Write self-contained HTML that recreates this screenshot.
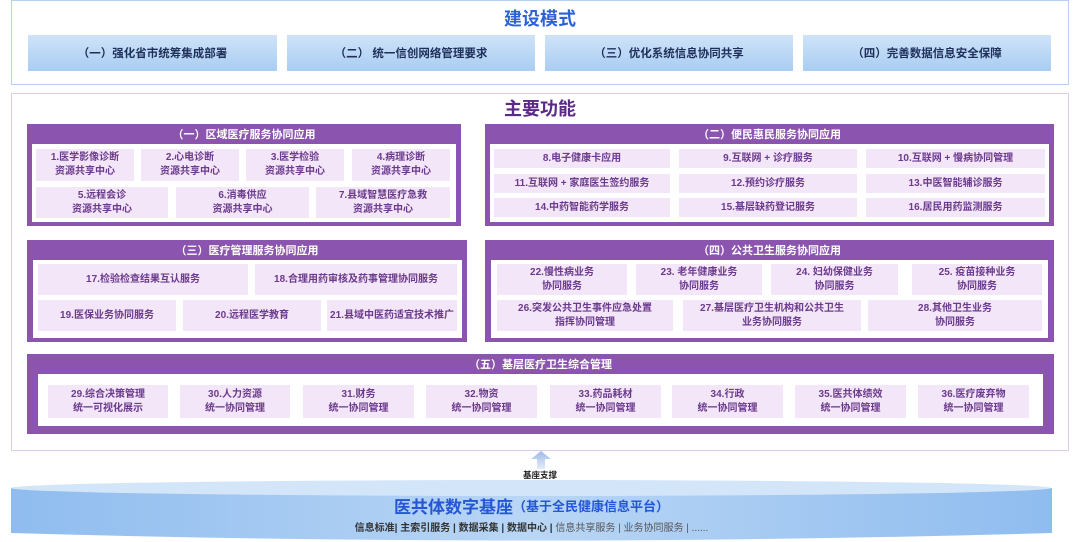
<!DOCTYPE html>
<html><head><meta charset="utf-8"><style>
body{margin:0;width:1080px;height:542px;background:#fff;position:relative;overflow:hidden;font-family:"Liberation Sans","Noto Sans CJK SC",sans-serif;}
.a{position:absolute;box-sizing:border-box;}
.t{display:flex;align-items:center;justify-content:center;text-align:center;}
.btn{background:linear-gradient(180deg,#cfe3f8,#a9cdf3);color:#1e2f5a;font-size:11.5px;font-weight:bold;}
.sec{background:#8b54ae;}
.hd{color:#fff;font-size:11px;font-weight:bold;height:20px;}
.in{background:#fff;}
.it{background:#f3e6f9;color:#6b3a8c;font-size:10px;line-height:14px;font-weight:bold;}
</style></head><body>
<div class="a" style="left:11px;top:0;width:1058px;height:85px;border:1px solid #b9d0f5;"></div>
<div class="a t" style="left:11px;top:6px;width:1058px;height:24px;color:#2c62d6;font-size:18px;font-weight:bold;">建设模式</div>
<div class="a t btn" style="left:28px;top:35px;width:249px;height:36px;">（一）强化省市统筹集成部署</div>
<div class="a t btn" style="left:287px;top:35px;width:248px;height:36px;">（二） 统一信创网络管理要求</div>
<div class="a t btn" style="left:545px;top:35px;width:248px;height:36px;">（三）优化系统信息协同共享</div>
<div class="a t btn" style="left:803px;top:35px;width:248px;height:36px;">（四）完善数据信息安全保障</div>

<div class="a" style="left:11px;top:93px;width:1058px;height:358px;border:1px solid #dccbea;"></div>
<div class="a t" style="left:11px;top:96px;width:1058px;height:24px;color:#5b2a86;font-size:18px;font-weight:bold;">主要功能</div>

<!-- sec1 -->
<div class="a sec" style="left:27px;top:124px;width:434px;height:102px;"></div>
<div class="a t hd" style="left:27px;top:124px;width:434px;">（一）区域医疗服务协同应用</div>
<div class="a in" style="left:32px;top:144px;width:424px;height:78px;"></div>
<div class="a t it" style="left:36px;top:149px;width:98px;height:32px;">1.医学影像诊断<br>资源共享中心</div>
<div class="a t it" style="left:141px;top:149px;width:98px;height:32px;">2.心电诊断<br>资源共享中心</div>
<div class="a t it" style="left:246px;top:149px;width:98px;height:32px;">3.医学检验<br>资源共享中心</div>
<div class="a t it" style="left:352px;top:149px;width:98px;height:32px;">4.病理诊断<br>资源共享中心</div>
<div class="a t it" style="left:36px;top:187px;width:132px;height:31px;">5.远程会诊<br>资源共享中心</div>
<div class="a t it" style="left:176px;top:187px;width:133px;height:31px;">6.消毒供应<br>资源共享中心</div>
<div class="a t it" style="left:316px;top:187px;width:134px;height:31px;">7.县域智慧医疗急救<br>资源共享中心</div>

<!-- sec2 -->
<div class="a sec" style="left:485px;top:124px;width:569px;height:102px;"></div>
<div class="a t hd" style="left:485px;top:124px;width:569px;">（二）便民惠民服务协同应用</div>
<div class="a in" style="left:490px;top:144px;width:559px;height:78px;"></div>
<div class="a t it" style="left:494px;top:149px;width:176px;height:19px;">8.电子健康卡应用</div>
<div class="a t it" style="left:679px;top:149px;width:178px;height:19px;">9.互联网 + 诊疗服务</div>
<div class="a t it" style="left:866px;top:149px;width:179px;height:19px;">10.互联网 + 慢病协同管理</div>
<div class="a t it" style="left:494px;top:174px;width:176px;height:19px;">11.互联网 + 家庭医生签约服务</div>
<div class="a t it" style="left:679px;top:174px;width:178px;height:19px;">12.预约诊疗服务</div>
<div class="a t it" style="left:866px;top:174px;width:179px;height:19px;">13.中医智能辅诊服务</div>
<div class="a t it" style="left:494px;top:198px;width:176px;height:19px;">14.中药智能药学服务</div>
<div class="a t it" style="left:679px;top:198px;width:178px;height:19px;">15.基层缺药登记服务</div>
<div class="a t it" style="left:866px;top:198px;width:179px;height:19px;">16.居民用药监测服务</div>

<!-- sec3 -->
<div class="a sec" style="left:27px;top:240px;width:440px;height:102px;"></div>
<div class="a t hd" style="left:27px;top:240px;width:440px;">（三）医疗管理服务协同应用</div>
<div class="a in" style="left:33px;top:260px;width:429px;height:78px;"></div>
<div class="a t it" style="left:38px;top:264px;width:210px;height:31px;">17.检验检查结果互认服务</div>
<div class="a t it" style="left:255px;top:264px;width:202px;height:31px;">18.合理用药审核及药事管理协同服务</div>
<div class="a t it" style="left:38px;top:300px;width:138px;height:31px;">19.医保业务协同服务</div>
<div class="a t it" style="left:183px;top:300px;width:138px;height:31px;">20.远程医学教育</div>
<div class="a t it" style="left:327px;top:300px;width:130px;height:31px;">21.县域中医药适宜技术推广</div>

<!-- sec4 -->
<div class="a sec" style="left:485px;top:240px;width:569px;height:102px;"></div>
<div class="a t hd" style="left:485px;top:240px;width:569px;">（四）公共卫生服务协同应用</div>
<div class="a in" style="left:491px;top:260px;width:557px;height:78px;"></div>
<div class="a t it" style="left:497px;top:264px;width:130px;height:31px;">22.慢性病业务<br>协同服务</div>
<div class="a t it" style="left:636px;top:264px;width:126px;height:31px;">23. 老年健康业务<br>协同服务</div>
<div class="a t it" style="left:771px;top:264px;width:127px;height:31px;">24. 妇幼保健业务<br>协同服务</div>
<div class="a t it" style="left:912px;top:264px;width:130px;height:31px;">25. 疫苗接种业务<br>协同服务</div>
<div class="a t it" style="left:497px;top:300px;width:176px;height:31px;">26.突发公共卫生事件应急处置<br>指挥协同管理</div>
<div class="a t it" style="left:683px;top:300px;width:178px;height:31px;">27.基层医疗卫生机构和公共卫生<br>业务协同服务</div>
<div class="a t it" style="left:868px;top:300px;width:174px;height:31px;">28.其他卫生业务<br>协同服务</div>

<!-- sec5 -->
<div class="a sec" style="left:27px;top:354px;width:1027px;height:80px;"></div>
<div class="a t hd" style="left:27px;top:354px;width:1027px;">（五）基层医疗卫生综合管理</div>
<div class="a in" style="left:38px;top:374px;width:1005px;height:52px;"></div>
<div class="a t it" style="left:48px;top:385px;width:120px;height:33px;">29.综合决策管理<br>统一可视化展示</div>
<div class="a t it" style="left:180px;top:385px;width:110px;height:33px;">30.人力资源<br>统一协同管理</div>
<div class="a t it" style="left:303px;top:385px;width:111px;height:33px;">31.财务<br>统一协同管理</div>
<div class="a t it" style="left:426px;top:385px;width:111px;height:33px;">32.物资<br>统一协同管理</div>
<div class="a t it" style="left:550px;top:385px;width:111px;height:33px;">33.药品耗材<br>统一协同管理</div>
<div class="a t it" style="left:672px;top:385px;width:111px;height:33px;">34.行政<br>统一协同管理</div>
<div class="a t it" style="left:795px;top:385px;width:111px;height:33px;">35.医共体绩效<br>统一协同管理</div>
<div class="a t it" style="left:918px;top:385px;width:111px;height:33px;">36.医疗废弃物<br>统一协同管理</div>

<!-- arrow -->
<svg class="a" style="left:530px;top:450px;" width="22" height="20"><defs><linearGradient id="g" x1="0" y1="0" x2="0" y2="1"><stop offset="0" stop-color="#9fb8e6"/><stop offset="1" stop-color="#e4ecfa"/></linearGradient></defs><polygon points="11,1 21,9 15,9 15,19 7,19 7,9 1,9" fill="url(#g)"/></svg>
<div class="a t" style="left:500px;top:468px;width:80px;height:13px;font-size:8.5px;font-weight:bold;color:#222;">基座支撑</div>

<!-- base -->
<svg class="a" style="left:0;top:478px;" width="1080" height="64"><defs><linearGradient id="b" x1="0" y1="0" x2="1" y2="0"><stop offset="0" stop-color="#8fbcef"/><stop offset="0.5" stop-color="#b9d6f5"/><stop offset="1" stop-color="#8fbcef"/></linearGradient></defs>
<path d="M11,10 L11,55 Q530,70 1052,55 L1052,10 Z" fill="url(#b)"/>
<ellipse cx="531" cy="10" rx="520" ry="8" fill="#d3e5f8"/></svg>
<div class="a t" style="left:11px;top:494px;width:1041px;height:22px;color:#2456d6;font-size:17px;font-weight:bold;">医共体数字基座<span style="font-size:13px;">（基于全民健康信息平台）</span></div>
<div class="a t" style="left:11px;top:519px;width:1041px;height:15px;color:#333;font-size:10px;font-weight:bold;">信息标准| 主索引服务 | 数据采集 | 数据中心 | <span style="font-weight:normal;color:#555;">&nbsp;信息共享服务 | 业务协同服务 | ......</span></div>
</body></html>
